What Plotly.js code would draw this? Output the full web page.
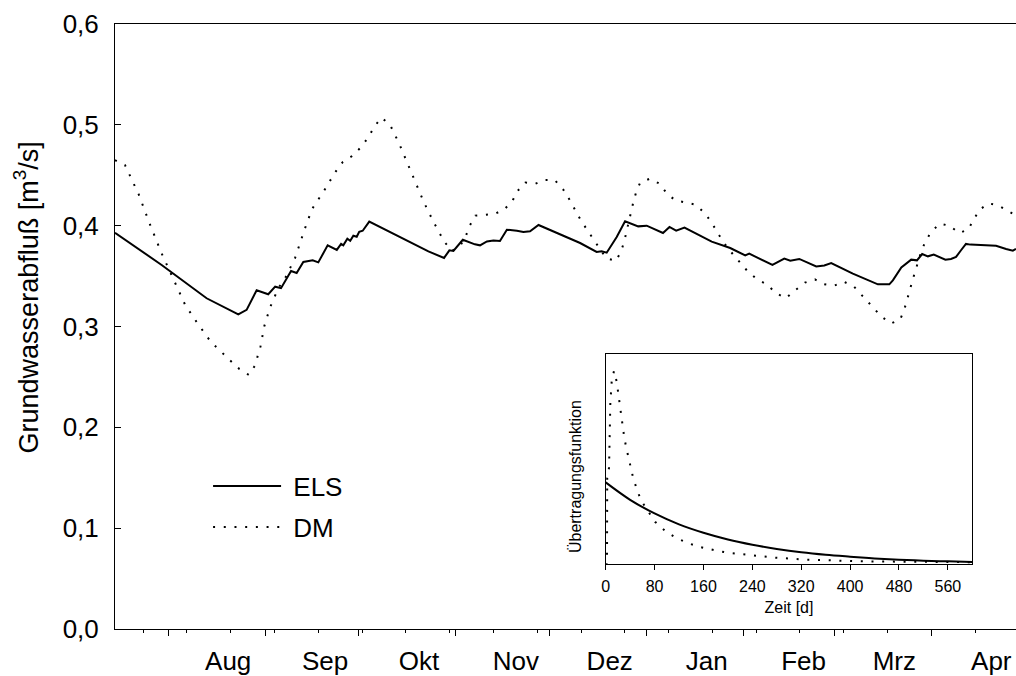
<!DOCTYPE html>
<html>
<head>
<meta charset="utf-8">
<script src="https://cdn.plot.ly/plotly-3.0.1.min.js"></script>
<style>html,body{margin:0;padding:0;background:#fff;}#chart{width:1016px;height:676px;}</style>
</head>
<body>
<div id="chart"></div>
<script>
// ---- Main series: Grundwasserabfluß [m³/s] ----
const elsDates = [
 '1995-07-15 00:00','1995-07-29 22:00','1995-08-13 07:00','1995-08-23 10:00','1995-08-26 02:00','1995-08-29 07:00',
 '1995-09-02 00:00','1995-09-04 05:00','1995-09-06 02:00','1995-09-09 07:00','1995-09-11 02:00','1995-09-13 05:00',
 '1995-09-16 05:00','1995-09-18 00:00','1995-09-21 00:00','1995-09-23 22:00','1995-09-25 07:00','1995-09-26 00:00',
 '1995-09-27 07:00','1995-09-28 05:00','1995-09-29 05:00','1995-09-30 07:00','1995-10-01 02:00','1995-10-02 05:00',
 '1995-10-04 07:00','1995-10-23 05:00','1995-10-28 05:00','1995-10-29 22:00','1995-10-31 05:00','1995-11-03 05:00',
 '1995-11-07 02:00','1995-11-08 17:00','1995-11-10 22:00','1995-11-13 00:00','1995-11-15 02:00','1995-11-17 07:00',
 '1995-11-20 12:00','1995-11-22 14:00','1995-11-24 17:00','1995-11-27 10:00','1995-12-10 17:00','1995-12-16 00:00',
 '1995-12-17 14:00','1995-12-19 05:00','1995-12-22 10:00','1995-12-25 02:00','1995-12-29 07:00','1996-01-01 00:00',
 '1996-01-06 05:00','1996-01-08 07:00','1996-01-10 10:00','1996-01-13 02:00','1996-01-21 19:00','1996-01-27 17:00',
 '1996-02-01 12:00','1996-02-02 19:00','1996-02-10 05:00','1996-02-14 00:00','1996-02-15 22:00','1996-02-18 19:00',
 '1996-02-24 05:00','1996-02-26 19:00','1996-02-29 00:00','1996-03-06 22:00','1996-03-14 22:00','1996-03-18 14:00',
 '1996-03-19 17:00','1996-03-22 10:00','1996-03-25 14:00','1996-03-27 10:00','1996-03-29 02:00','1996-03-30 22:00',
 '1996-04-01 19:00','1996-04-05 12:00','1996-04-07 07:00','1996-04-08 22:00','1996-04-10 12:00','1996-04-12 02:00',
 '1996-04-13 12:00','1996-04-21 17:00','1996-04-24 22:00','1996-04-27 02:00','1996-04-28 02:00'
];
const elsValues = [
 0.393,0.361,0.328,0.312,0.3165,0.336,
 0.332,0.3395,0.338,0.355,0.353,0.364,
 0.3656,0.3636,0.3805,0.376,0.382,0.3805,
 0.387,0.385,0.390,0.389,0.394,0.395,
 0.404,0.3745,0.368,0.3755,0.375,0.386,
 0.3815,0.3805,0.3844,0.3854,0.3848,0.396,
 0.395,0.3937,0.3944,0.4007,0.3828,0.374,
 0.3745,0.3732,0.3888,0.4043,0.3993,0.400,
 0.3927,0.3987,0.395,0.398,0.3841,0.3778,
 0.3705,0.3722,0.361,0.3673,0.3653,0.367,
 0.3596,0.3606,0.363,0.3524,0.3418,0.3418,
 0.3457,0.3586,0.3663,0.3656,0.3719,0.3696,
 0.3713,0.3663,0.367,0.369,0.3756,0.3819,
 0.3812,0.380,0.3769,0.3752,0.3769
];
const dmDates = [
 '1995-07-15 00:00','1995-07-18 05:00','1995-07-22 14:00','1995-07-26 02:00','1995-07-29 22:00','1995-08-03 05:00',
 '1995-08-06 12:00','1995-08-10 05:00','1995-08-14 14:00','1995-08-20 14:00','1995-08-23 17:00','1995-08-26 19:00',
 '1995-08-28 17:00','1995-08-30 12:00','1995-08-31 17:00','1995-09-02 14:00','1995-09-05 05:00','1995-09-07 10:00',
 '1995-09-10 14:00','1995-09-13 17:00','1995-09-16 00:00','1995-09-19 22:00','1995-09-23 10:00','1995-09-25 19:00',
 '1995-09-28 19:00','1995-10-01 17:00','1995-10-04 02:00','1995-10-05 19:00','1995-10-08 02:00','1995-10-10 19:00',
 '1995-10-13 22:00','1995-10-16 12:00','1995-10-19 00:00','1995-10-21 19:00','1995-10-24 19:00','1995-10-28 07:00',
 '1995-10-30 19:00','1995-11-02 14:00','1995-11-04 05:00','1995-11-05 10:00','1995-11-07 05:00','1995-11-10 07:00',
 '1995-11-13 10:00','1995-11-16 14:00','1995-11-19 02:00','1995-11-20 14:00','1995-11-23 05:00','1995-11-26 07:00',
 '1995-11-29 10:00','1995-12-02 14:00','1995-12-05 07:00','1995-12-07 07:00','1995-12-08 22:00','1995-12-10 17:00',
 '1995-12-12 17:00','1995-12-14 22:00','1995-12-16 22:00','1995-12-19 02:00','1995-12-22 05:00','1995-12-23 19:00',
 '1995-12-24 19:00','1995-12-25 12:00','1995-12-26 22:00','1995-12-27 17:00','1995-12-28 14:00','1995-12-29 22:00',
 '1996-01-02 00:00','1996-01-05 02:00','1996-01-07 10:00','1996-01-10 05:00','1996-01-13 10:00','1996-01-16 12:00',
 '1996-01-19 10:00','1996-01-21 14:00','1996-01-23 12:00','1996-01-25 10:00','1996-01-27 19:00','1996-01-30 14:00',
 '1996-02-02 05:00','1996-02-05 05:00','1996-02-08 07:00','1996-02-11 10:00','1996-02-14 12:00','1996-02-17 12:00',
 '1996-02-20 14:00','1996-02-23 19:00','1996-02-26 19:00','1996-03-01 00:00','1996-03-04 02:00','1996-03-07 07:00',
 '1996-03-10 05:00','1996-03-13 02:00','1996-03-16 00:00','1996-03-19 02:00','1996-03-22 00:00','1996-03-23 07:00',
 '1996-03-24 07:00','1996-03-25 02:00','1996-03-25 22:00','1996-03-26 19:00','1996-03-27 17:00','1996-03-28 19:00',
 '1996-03-30 02:00','1996-03-31 22:00','1996-04-03 17:00','1996-04-06 19:00','1996-04-09 22:00','1996-04-12 19:00',
 '1996-04-14 14:00','1996-04-16 10:00','1996-04-19 10:00','1996-04-22 12:00','1996-04-25 14:00','1996-04-28 02:00'
];
const dmValues = [
 0.465,0.460,0.431,0.402,0.3725,0.343,
 0.321,0.304,0.285,0.267,0.258,0.252,
 0.261,0.280,0.300,0.319,0.338,0.348,
 0.368,0.397,0.4165,0.435,0.453,0.463,
 0.469,0.478,0.488,0.4975,0.507,0.501,
 0.481,0.462,0.443,0.423,0.404,0.384,
 0.375,0.381,0.390,0.400,0.410,0.411,
 0.4116,0.4165,0.4245,0.434,0.4427,0.4414,
 0.4454,0.4454,0.436,0.426,0.4165,0.4066,
 0.397,0.387,0.377,0.3676,0.365,0.3745,
 0.384,0.394,0.4136,0.423,0.4327,0.4427,
 0.4466,0.4417,0.432,0.425,0.423,0.421,
 0.413,0.404,0.394,0.384,0.3745,0.365,
 0.355,0.347,0.342,0.333,0.328,0.336,
 0.3435,0.3467,0.3418,0.3405,0.3444,0.3395,
 0.3296,0.320,0.310,0.303,0.3067,0.316,
 0.3259,0.3355,0.3451,0.3547,0.3646,0.3745,
 0.3841,0.3937,0.402,0.400,0.3927,0.3963,
 0.4062,0.4159,0.4221,0.420,0.4145,0.410
];
const monthTicks = ['1995-08-01','1995-09-01','1995-10-01','1995-11-01','1995-12-01','1996-01-01','1996-02-01','1996-03-01','1996-04-01'];
const monthLabels = ['Aug','Sep','Okt','Nov','Dez','Jan','Feb','Mrz','Apr'];
const yTicks = [0,0.1,0.2,0.3,0.4,0.5,0.6];
const yTickLabels = ['0,0','0,1','0,2','0,3','0,4','0,5','0,6'];
const seriesNames = ['ELS','DM'];

// ---- Inset: Übertragungsfunktion (relative units) ----
const kernelTicks = [0,80,160,240,320,400,480,560];
const elsKernelDays = [0,40,80,120,160,200,240,280,320,360,400,440,480,520,560,600];
const elsKernel = [0.390,0.307,0.242,0.190,0.150,0.118,0.093,0.073,0.057,0.045,0.036,0.028,0.022,0.017,0.014,0.011];
const dmKernelDays = [0,1.8,2.2,2.5,5.5,6.5,7.6,9.8,13.6,18.0,20.2,22.4,24.6,26.7,30.0,33.3,37.1,40.4,45.3,51.3,57.9,80.8,98.2,116.3,133.7,151.2,168.7,186.1,204.1,221.6,239.1,257.1,274.5,292,310,327.5,344.9,362.4,379.9,397.9,415.4,450.3,500,550,600];
const dmKernel = [0,0,0.05,0.41,0.46,0.665,0.766,0.87,0.921,0.87,0.819,0.766,0.715,0.663,0.612,0.56,0.509,0.458,0.407,0.355,0.304,0.202,0.157,0.124,0.102,0.084,0.072,0.062,0.054,0.048,0.041,0.037,0.032,0.029,0.025,0.022,0.021,0.019,0.017,0.016,0.014,0.013,0.012,0.011,0.010];

const FONT = 'Arial, "Liberation Sans", sans-serif';
const DOTS = '2px,8.7px';
const GAP = '\u00a0';

const traces = [
  {x: elsDates, y: elsValues, type: 'scatter', mode: 'lines', name: GAP + seriesNames[0], legendgroup: 'a',
   line: {color: '#000', width: 2}, xaxis: 'x', yaxis: 'y'},
  {x: dmDates, y: dmValues, type: 'scatter', mode: 'lines', name: GAP + seriesNames[1], legendgroup: 'b',
   line: {color: '#000', width: 2, dash: DOTS}, xaxis: 'x', yaxis: 'y'},
  {x: elsKernelDays, y: elsKernel, type: 'scatter', mode: 'lines', showlegend: false,
   line: {color: '#000', width: 2, shape: 'spline'}, xaxis: 'x2', yaxis: 'y2'},
  {x: dmKernelDays, y: dmKernel, type: 'scatter', mode: 'lines', showlegend: false,
   line: {color: '#000', width: 2, dash: DOTS}, xaxis: 'x2', yaxis: 'y2'}
];

const layout = {
  width: 1016, height: 676,
  margin: {l: 115, r: 0, t: 24, b: 47, pad: 0},
  paper_bgcolor: '#fff', plot_bgcolor: 'rgba(0,0,0,0)',
  font: {family: FONT, color: '#000', size: 26},
  showlegend: true,
  legend: {x: 0.1033, y: 0.2749, xanchor: 'left', yanchor: 'top', bgcolor: 'rgba(0,0,0,0)',
           font: {size: 26, family: FONT}, itemwidth: 68, tracegroupgap: 4},
  xaxis: {
    type: 'date', range: ['1995-07-15 00:00', '1996-04-28 02:00'], domain: [0, 1],
    tickmode: 'array', tickvals: monthTicks, ticktext: monthLabels,
    ticks: 'outside', ticklen: 6, tickwidth: 1, tickcolor: '#000',
    ticklabelshift: 60, ticklabelstandoff: 3,
    minor: {tickmode: 'linear', tick0: '1995-07-24', dtick: 14 * 86400000, ticks: 'outside', ticklen: 3, tickwidth: 1, tickcolor: '#000', showgrid: false},
    showline: true, linecolor: '#000', linewidth: 1, mirror: true,
    showgrid: false, zeroline: false, tickfont: {size: 26}
  },
  yaxis: {
    range: [0, 0.6], tickmode: 'array', tickvals: yTicks, ticktext: yTickLabels,
    ticks: 'inside', ticklen: 6, tickwidth: 1, tickcolor: '#000', ticklabelstandoff: 10,
    showline: true, linecolor: '#000', linewidth: 1, mirror: false,
    showgrid: false, zeroline: false, tickfont: {size: 26}
  },
  xaxis2: {
    domain: [0.5446, 0.9515], anchor: 'y2', range: [0, 600],
    tickmode: 'array', tickvals: kernelTicks,
    ticks: 'outside', ticklen: 5, tickwidth: 1, tickcolor: '#000', ticklabelstandoff: 3,
    showline: true, linecolor: '#000', linewidth: 1, mirror: true,
    showgrid: false, zeroline: false, tickfont: {size: 16},
    title: {text: 'Zeit [d]', font: {size: 16}, standoff: 7}
  },
  yaxis2: {
    domain: [0.107, 0.454], anchor: 'x2', range: [0, 1],
    showticklabels: false, ticks: '',
    showline: true, linecolor: '#000', linewidth: 1, mirror: true,
    showgrid: false, zeroline: false
  },
  annotations: [
    {text: 'Grundwasserabfluß [m<sup>3</sup>/s]', textangle: -90, xref: 'paper', yref: 'paper',
     x: -0.0977, y: 0.548, xanchor: 'center', yanchor: 'middle', showarrow: false, font: {size: 27}},
    {text: 'Übertragungsfunktion', textangle: -90, xref: 'paper', yref: 'paper',
     x: 0.5105, y: 0.2527, xanchor: 'center', yanchor: 'middle', showarrow: false, font: {size: 16}}
  ]
};

Plotly.newPlot('chart', traces, layout, {displayModeBar: false, staticPlot: true});
</script>
</body>
</html>
